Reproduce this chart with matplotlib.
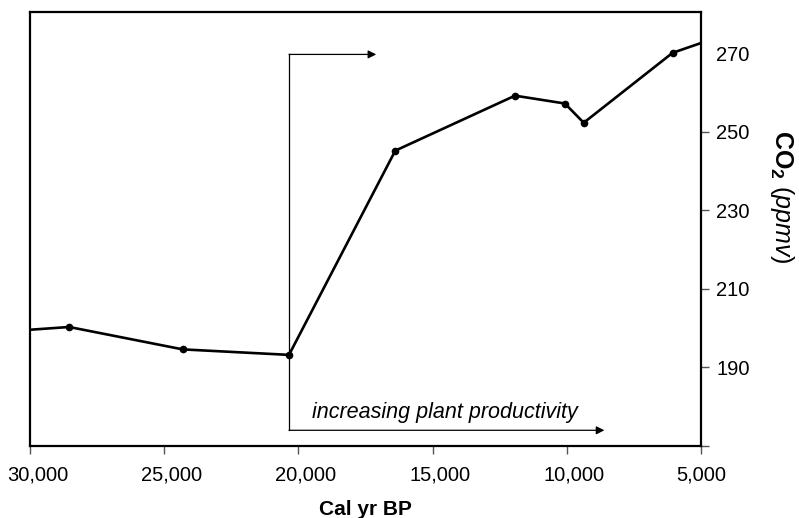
import matplotlib
matplotlib.use("Agg")
import matplotlib.pyplot as plt
from matplotlib.ticker import FuncFormatter
from matplotlib.transforms import ScaledTranslation

plt.rcParams["font.family"] = ["Liberation Sans", "DejaVu Sans"]
plt.rcParams["mathtext.fontset"] = "custom"
plt.rcParams["mathtext.rm"] = "Liberation Sans"
plt.rcParams["mathtext.bf"] = "Liberation Sans:bold"
plt.rcParams["mathtext.it"] = "Liberation Sans:italic"

# CO2 record (cal yr BP vs ppmv); first and last values run off the axes, no dot
age = [30000, 28540, 24310, 20350, 16390, 11930, 10070, 9370, 6060, 5000]
co2 = [199.6, 200.3, 194.6, 193.2, 245.2, 259.2, 257.2, 252.3, 270.1, 272.6]
x_ticks = [30000, 25000, 20000, 15000, 10000, 5000]
y_ticks = [170, 190, 210, 230, 250, 270]

# arrow annotations (data coords)
lgm_age = 20350
upper_arrow = (269.7, 17100)
lower_arrow = (174.0, 8600)
note = "increasing plant productivity"

fig = plt.figure(figsize=(7.99, 5.18), dpi=100)
ax = fig.add_axes([30 / 799, 1 - 446 / 518, 671 / 799, 434 / 518])

ax.plot(age, co2, color="black", lw=1.9, zorder=3)
ax.plot(age[1:-1], co2[1:-1], ls="none", color="black", marker="o", ms=4.5, zorder=4)

ax.set_xlim(30000, 5000)
ax.set_ylim(170, 280.5)

for s in ax.spines.values():
    s.set_linewidth(1.6)

ax.yaxis.tick_right()
ax.yaxis.set_label_position("right")
ax.set_yticks(y_ticks)
ax.set_yticklabels([""] + [str(v) for v in y_ticks[1:]])
ax.yaxis.get_major_ticks()[-1].tick2line.set_visible(False)
ax.set_xticks(x_ticks)
ax.xaxis.set_major_formatter(FuncFormatter(lambda v, p: f"{int(v):,}"))
ax.tick_params(axis="both", direction="out", length=6, width=1, color="#555555",
               labelsize=14.5)
ax.tick_params(axis="x", pad=8)
ax.tick_params(axis="y", pad=5)

# x tick labels sit a little right of their ticks in the original
shift = ScaledTranslation(0.075, 0, fig.dpi_scale_trans)
for lab in ax.get_xticklabels()[:-1]:
    lab.set_transform(lab.get_transform() + shift)

ax.set_xlabel("Cal yr BP", fontsize=15, fontweight="bold", labelpad=11)
ax.text(1.121, 0.575, r"$\mathbf{CO_2}$ $\mathit{(ppmv)}$", transform=ax.transAxes,
        rotation=-90, fontsize=18, ha="center", va="center")

# arrows
ax.plot([lgm_age, lgm_age], [lower_arrow[0], upper_arrow[0]], color="black", lw=0.9)
ax.annotate("", xy=(upper_arrow[1], upper_arrow[0]), xytext=(lgm_age, upper_arrow[0]),
            arrowprops=dict(arrowstyle="-|>", color="black", lw=0.9,
                            shrinkA=0, shrinkB=0, mutation_scale=12))
ax.annotate("", xy=(lower_arrow[1], lower_arrow[0]), xytext=(lgm_age, lower_arrow[0]),
            arrowprops=dict(arrowstyle="-|>", color="black", lw=0.9,
                            shrinkA=0, shrinkB=0, mutation_scale=12))
ax.text(19500, 178.6, note, style="italic", fontsize=15.5, ha="left", va="center")

fig.savefig("out.png", dpi=100)
